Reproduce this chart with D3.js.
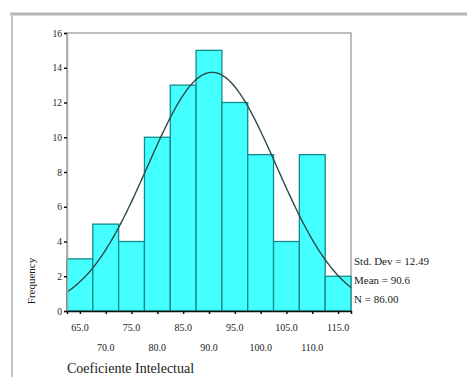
<!DOCTYPE html>
<html>
<head>
<meta charset="utf-8">
<script src="https://cdn.jsdelivr.net/npm/d3@7"></script>
<style>
  html, body { margin: 0; padding: 0; background: #fff; }
  svg { display: block; }
  text { font-family: "Liberation Serif", "DejaVu Serif", serif; fill: #1a1a1a; }
</style>
</head>
<body>
<svg id="chart" width="467" height="377"></svg>
<script>
// Histogram of IQ scores (bin centres, width 5)
const binCenters = [65, 70, 75, 80, 85, 90, 95, 100, 105, 110, 115];
const frequencies = [3, 5, 4, 10, 13, 15, 12, 9, 4, 9, 2];
const binWidth = [5];
const yTicks = [0, 2, 4, 6, 8, 10, 12, 14, 16];
const xTicksTop = ["65.0", "75.0", "85.0", "95.0", "105.0", "115.0"];
const xTicksBottom = ["70.0", "80.0", "90.0", "100.0", "110.0"];
const statLabels = ["Std. Dev = 12.49", "Mean = 90.6", "N = 86.00"];
const stdDev = [12.49];
const mean = [90.6];
const nCount = [86];

const svg = d3.select("#chart");

// outer panel frame
svg.append("line").attr("x1", 10).attr("x2", 467).attr("y1", 14).attr("y2", 14)
  .attr("stroke", "#b4b4b4").attr("stroke-width", 3);
svg.append("line").attr("x1", 12).attr("x2", 12).attr("y1", 14).attr("y2", 377)
  .attr("stroke", "#c4c4c4").attr("stroke-width", 2);

const x = d3.scaleLinear()
  .domain([binCenters[0] - binWidth[0] / 2, binCenters[binCenters.length - 1] + binWidth[0] / 2])
  .range([67, 351]);
const y = d3.scaleLinear().domain([0, 16]).range([311, 33]);

// plot frame
svg.append("rect")
  .attr("x", x.range()[0]).attr("y", y(16))
  .attr("width", x.range()[1] - x.range()[0]).attr("height", y(0) - y(16))
  .attr("fill", "none").attr("stroke", "#a8a8a8").attr("stroke-width", 1.5);

// bars
svg.append("g").selectAll("rect")
  .data(binCenters)
  .join("rect")
  .attr("x", (d) => x(d - binWidth[0] / 2))
  .attr("y", (d, i) => y(frequencies[i]))
  .attr("width", (d) => x(d + binWidth[0] / 2) - x(d - binWidth[0] / 2))
  .attr("height", (d, i) => y(0) - y(frequencies[i]))
  .attr("fill", "#44ffff")
  .attr("stroke", "#108a8a")
  .attr("stroke-width", 1.3);

// fitted normal curve
const pdfScale = nCount[0] * binWidth[0] / (stdDev[0] * Math.sqrt(2 * Math.PI));
const curveX = d3.range(x.domain()[0], x.domain()[1] + 0.01, 0.25);
const line = d3.line()
  .x((d) => x(d))
  .y((d) => y(pdfScale * Math.exp(-0.5 * Math.pow((d - mean[0]) / stdDev[0], 2))))
  .curve(d3.curveMonotoneX);
svg.append("path").datum(curveX).attr("d", line)
  .attr("fill", "none").attr("stroke", "#2f4a4a").attr("stroke-width", 1.4);

// y axis
const yAxis = d3.axisLeft(y).tickValues(yTicks).tickSize(3).tickPadding(2).tickFormat(d3.format("d"));
const gy = svg.append("g").attr("transform", `translate(${x.range()[0]},0)`).call(yAxis);
gy.select(".domain").attr("stroke", "#a8a8a8").attr("stroke-width", 1.5);
gy.selectAll(".tick line").attr("stroke", "#111").attr("stroke-width", 1.5);
gy.selectAll(".tick text").style("font-family", "Liberation Serif, serif")
  .attr("font-size", 9.5).attr("fill", "#1a1a1a");

// x axis
const xAxis = d3.axisBottom(x).tickValues(binCenters).tickSize(3).tickFormat("");
const gx = svg.append("g").attr("transform", `translate(0,${y(0)})`).call(xAxis);
gx.select(".domain").attr("stroke", "#111").attr("stroke-width", 1.5);
gx.selectAll(".tick line").attr("stroke", "#111").attr("stroke-width", 1.5);

// staggered x labels
svg.append("g").selectAll("text")
  .data(xTicksTop)
  .join("text")
  .attr("x", (d) => x(+d)).attr("y", 331)
  .attr("text-anchor", "middle").attr("font-size", 10).text((d) => d);
svg.append("g").selectAll("text")
  .data(xTicksBottom)
  .join("text")
  .attr("x", (d) => x(+d)).attr("y", 351)
  .attr("text-anchor", "middle").attr("font-size", 10).text((d) => d);

// axis titles
svg.append("text").attr("x", 67).attr("y", 373).attr("font-size", 14).text("Coeficiente Intelectual");
svg.append("text").attr("transform", "translate(35,281) rotate(-90)")
  .attr("text-anchor", "middle").attr("font-size", 11).text("Frequency");

// summary statistics
svg.append("g").selectAll("text")
  .data(statLabels)
  .join("text")
  .attr("x", 354).attr("y", (d, i) => 265 + i * 19)
  .attr("font-size", 11).text((d) => d);
</script>
</body>
</html>
